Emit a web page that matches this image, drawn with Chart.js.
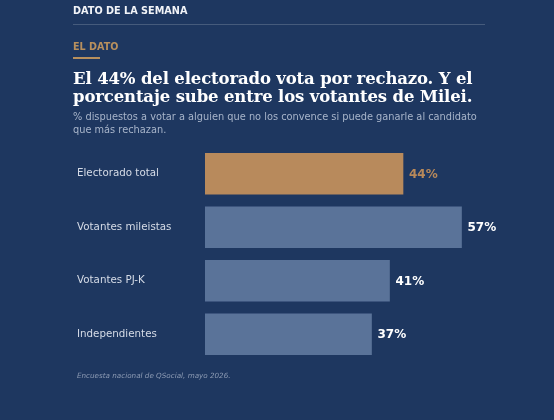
<!DOCTYPE html>
<html>
<head>
<meta charset="utf-8">
<script src="https://cdn.jsdelivr.net/npm/chart.js@4"></script>
<style>
  html, body { margin: 0; padding: 0; background: #1e3760; }
  #wrap { position: relative; width: 554px; height: 420px; overflow: hidden; }
  #chart { position: absolute; left: 0; top: 0; }
  .txt { position: absolute; white-space: nowrap; }
  #kicker { left: 73px; top: 5px; font: bold 9.7px "DejaVu Sans", sans-serif; color: #f2f4f8; }
  #rule { position: absolute; left: 73px; top: 24px; width: 412px; height: 1px; background: rgba(255,255,255,0.18); }
  #eldato { left: 73px; top: 41px; font: bold 9.6px "DejaVu Sans", sans-serif; color: #b8905e; }
  #eldatoLine { position: absolute; left: 73px; top: 57px; width: 27px; height: 2px; background: #b8905e; }
  #title { left: 73px; top: 70px; font: bold 16.5px "DejaVu Serif", serif; letter-spacing: -0.15px; color: #ffffff; line-height: 18px; }
  #sub { left: 73px; top: 110px; font: 9.8px "DejaVu Sans", sans-serif; color: #a8b5ca; line-height: 13px; }
  #note { left: 77px; top: 371px; font: italic 7.2px "DejaVu Sans", sans-serif; color: #8d9bb4; }
</style>
</head>
<body>
<div id="wrap">
  <canvas id="chart" width="554" height="420"></canvas>
  <div class="txt" id="kicker">DATO DE LA SEMANA</div>
  <div id="rule"></div>
  <div class="txt" id="eldato">EL DATO</div>
  <div id="eldatoLine"></div>
  <div class="txt" id="title">El 44% del electorado vota por rechazo. Y el<br>porcentaje sube entre los votantes de Milei.</div>
  <div class="txt" id="sub">% dispuestos a votar a alguien que no los convence si puede ganarle al candidato<br>que más rechazan.</div>
  <div class="txt" id="note">Encuesta nacional de QSocial, mayo 2026.</div>
</div>
<script>
// Data
const categories = ['Electorado total', 'Votantes mileistas', 'Votantes PJ-K', 'Independientes'];
const values = [44, 57, 41, 37];

const barColors = ['#b88a5c', '#5a7399', '#5a7399', '#5a7399'];
const valueColors = ['#b8895a', '#ffffff', '#ffffff', '#ffffff'];

// Draw the "44%" style labels to the right of each bar
const valueLabels = {
    id: 'valueLabels',
    afterDatasetsDraw(chart) {
        const ctx = chart.ctx;
        const meta = chart.getDatasetMeta(0);
        ctx.save();
        ctx.font = 'bold 12px "DejaVu Sans", sans-serif';
        ctx.textAlign = 'left';
        ctx.textBaseline = 'middle';
        meta.data.forEach((bar, i) => {
            ctx.fillStyle = valueColors[i];
            ctx.fillText(values[i] + '%', bar.x + 6, bar.y + 1);
        });
        ctx.restore();
    }
};

const ctx = document.getElementById('chart').getContext('2d');
new Chart(ctx, {
    type: 'bar',
    data: {
        labels: categories,
        datasets: [{
            data: values,
            backgroundColor: barColors,
            borderWidth: 0,
            barThickness: 41
        }]
    },
    options: {
        indexAxis: 'y',
        responsive: false,
        animation: false,
        layout: {
            padding: { left: 77, right: 34, top: 147, bottom: 59 }
        },
        scales: {
            x: {
                display: false,
                min: 0,
                max: 70
            },
            y: {
                grid: { display: false },
                border: { display: false },
                ticks: {
                    crossAlign: 'far',
                    color: '#d6dce7',
                    font: { family: '"DejaVu Sans", sans-serif', size: 10.3 }
                },
                afterFit(scale) {
                    scale.width = 128; // bars start at x=205
                }
            }
        },
        plugins: {
            legend: { display: false },
            tooltip: { enabled: false }
        }
    },
    plugins: [valueLabels]
});
</script>
</body>
</html>
